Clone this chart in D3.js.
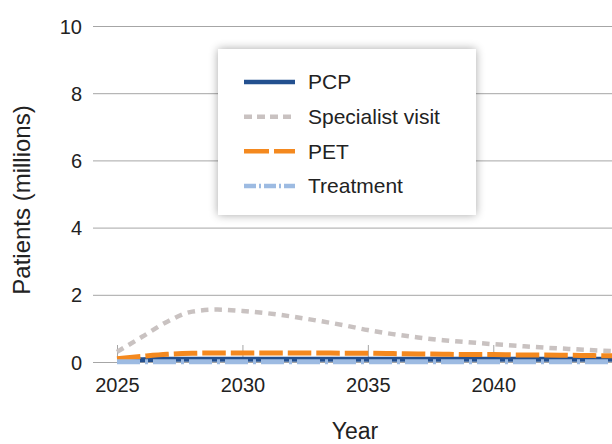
<!DOCTYPE html>
<html>
<head>
<meta charset="utf-8">
<script src="https://cdn.jsdelivr.net/npm/d3@7/dist/d3.min.js"></script>
<style>
  html, body { margin: 0; padding: 0; background: #fff; }
  svg { display: block; font-family: "Liberation Sans", Arial, sans-serif; }
</style>
</head>
<body>
<svg id="chart" width="612" height="444"></svg>
<script>
// Projected patient volumes by care step, 2025 onward (millions)
const years = [2025, 2026, 2027, 2028, 2029, 2030, 2031, 2032, 2033, 2034, 2035,
               2036, 2037, 2038, 2039, 2040, 2041, 2042, 2043, 2044, 2045];
const pcp        = [0.06, 0.07, 0.08, 0.08, 0.08, 0.08, 0.08, 0.08, 0.08, 0.08, 0.08,
                    0.08, 0.08, 0.08, 0.08, 0.08, 0.08, 0.08, 0.08, 0.08, 0.08];
const specialist = [0.30, 0.75, 1.20, 1.50, 1.56, 1.52, 1.45, 1.35, 1.23, 1.10, 0.95,
                    0.83, 0.73, 0.65, 0.59, 0.53, 0.48, 0.43, 0.39, 0.35, 0.32];
const pet        = [0.10, 0.17, 0.23, 0.26, 0.27, 0.27, 0.27, 0.27, 0.27, 0.26, 0.26,
                    0.25, 0.24, 0.23, 0.22, 0.22, 0.21, 0.21, 0.20, 0.19, 0.18];
const treatment  = [0.01, 0.01, 0.01, 0.01, 0.01, 0.01, 0.01, 0.01, 0.01, 0.01, 0.01,
                    0.01, 0.01, 0.01, 0.01, 0.01, 0.01, 0.01, 0.01, 0.01, 0.01];

const yTicks = [0, 2, 4, 6, 8, 10];
const xTicks = [2025, 2030, 2035, 2040];
const seriesNames = ["PCP", "Specialist visit", "PET", "Treatment"];

const series = [
  { name: seriesNames[0], values: pcp,        color: "#23508f", width: 5,   dash: null,       legendDash: null },
  { name: seriesNames[1], values: specialist, color: "#c9c2c1", width: 4.5, dash: "7.5,6",    legendDash: "8,5" },
  { name: seriesNames[2], values: pet,        color: "#f4891f", width: 5,   dash: "23.5,5",   legendDash: "25,5" },
  { name: seriesNames[3], values: treatment,  color: "#9dbbe2", width: 5,   dash: "23,5,3,5", legendDash: "12,3,2,3" }
];

const svg = d3.select("#chart");
const x = d3.scaleLinear().domain([2025, 2045]).range([117, 618.7]);
const y = d3.scaleLinear().domain([0, 10]).range([362, 26]);
const gridLeft = 93;
const gridRight = 612;

// Horizontal gridlines and y labels
const yAxis = d3.axisLeft(y).tickValues(yTicks).tickSize(0).tickPadding(0);
const gy = svg.append("g").attr("transform", `translate(${gridLeft},0)`).call(yAxis);
gy.select(".domain").remove();
gy.selectAll(".tick text")
  .attr("x", -11).attr("dy", "0.35em")
  .attr("font-size", 20).attr("fill", "#222")
  .attr("font-family", "Liberation Sans, Arial, sans-serif");
gy.selectAll(".tick").append("line")
  .attr("x1", 0).attr("x2", gridRight - gridLeft)
  .attr("stroke", "#a6a6a6").attr("stroke-width", 1);

// Year ticks, drawn pointing up from the baseline
const xAxis = d3.axisBottom(x).tickValues(xTicks).tickFormat(d3.format("d")).tickSize(0).tickPadding(0);
const gx = svg.append("g").attr("transform", `translate(0,${y(0)})`).call(xAxis);
gx.select(".domain").remove();
gx.selectAll(".tick line").remove();
gx.selectAll(".tick").append("line")
  .attr("y1", 0).attr("y2", -17)
  .attr("stroke", "#a6a6a6").attr("stroke-width", 1);
gx.selectAll(".tick text")
  .attr("y", 30).attr("dy", 0)
  .attr("font-size", 20).attr("fill", "#222")
  .attr("font-family", "Liberation Sans, Arial, sans-serif");

// Series lines
const line = d3.line()
  .x((d, i) => x(years[i]))
  .y(d => y(d))
  .curve(d3.curveMonotoneX);

svg.append("g").selectAll("path")
  .data(series)
  .join("path")
  .attr("d", s => line(s.values))
  .attr("fill", "none")
  .attr("stroke", s => s.color)
  .attr("stroke-width", s => s.width)
  .attr("stroke-dasharray", s => s.dash)
  .attr("stroke-linecap", "butt")
  .attr("stroke-linejoin", "round");

// Axis titles
svg.append("text")
  .attr("transform", "translate(30,200) rotate(-90)")
  .attr("text-anchor", "middle")
  .attr("font-size", 24)
  .attr("fill", "#222")
  .text("Patients (millions)");

svg.append("text")
  .attr("x", 355).attr("y", 439)
  .attr("text-anchor", "middle")
  .attr("font-size", 23)
  .attr("fill", "#222")
  .text("Year");

// Legend box with soft shadow
const defs = svg.append("defs");
const f = defs.append("filter").attr("id", "legendShadow")
  .attr("x", "-20%").attr("y", "-20%").attr("width", "140%").attr("height", "140%");
f.append("feGaussianBlur").attr("in", "SourceAlpha").attr("stdDeviation", 5).attr("result", "blur");
f.append("feComponentTransfer").attr("in", "blur").attr("result", "soft")
  .append("feFuncA").attr("type", "linear").attr("slope", 0.35);
const fm = f.append("feMerge");
fm.append("feMergeNode").attr("in", "soft");
fm.append("feMergeNode").attr("in", "SourceGraphic");

const legend = svg.append("g");
legend.append("rect")
  .attr("x", 218).attr("y", 49).attr("width", 258).attr("height", 166)
  .attr("fill", "#fff")
  .attr("filter", "url(#legendShadow)");

const rowY = d3.scalePoint().domain(seriesNames).range([82, 186]);
const items = legend.selectAll("g.item")
  .data(series)
  .join("g")
  .attr("class", "item")
  .attr("transform", s => `translate(0,${rowY(s.name)})`);
items.append("line")
  .attr("x1", 244).attr("x2", 295)
  .attr("stroke", s => s.color)
  .attr("stroke-width", 4.5)
  .attr("stroke-dasharray", s => s.legendDash);
items.append("text")
  .attr("x", 308).attr("dy", "0.35em")
  .attr("font-size", 21)
  .attr("fill", "#222")
  .text(s => s.name);
</script>
</body>
</html>
